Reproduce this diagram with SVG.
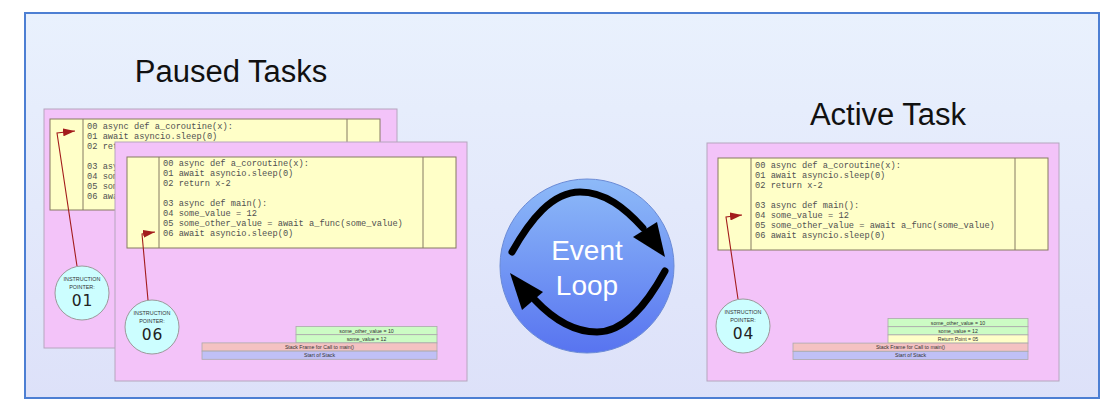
<svg xmlns="http://www.w3.org/2000/svg" width="1118" height="420" viewBox="0 0 1118 420">
<defs>
<linearGradient id="bg" x1="0" y1="0" x2="0" y2="1">
<stop offset="0" stop-color="#e9f1fd"/>
<stop offset="1" stop-color="#dde1f9"/>
</linearGradient>
<linearGradient id="loop" x1="0" y1="0" x2="0" y2="1">
<stop offset="0" stop-color="#8dbaf8"/>
<stop offset="1" stop-color="#5874f0"/>
</linearGradient>
<marker id="ptr" markerWidth="12" markerHeight="8" refX="12" refY="4" orient="auto" markerUnits="userSpaceOnUse">
<path d="M0,0 L12,4 L0,8 Z" fill="#a31c1c"/>
</marker>
</defs>
<style>
.pane{fill:#f3c3f9;stroke:#b5a6be;stroke-width:1}
.code{fill:#ffffc8;stroke:#857a62;stroke-width:1}
.div{stroke:#857a62;stroke-width:1}
.src{font-family:"Liberation Mono",monospace;font-size:8.7px;fill:#505050}
.ip{fill:#ccfeff;stroke:#9a9a9a;stroke-width:1}
.ipl{font-family:"Liberation Sans",Arial,sans-serif;font-size:5.4px;fill:#333;text-anchor:middle}
.ipn{font-family:"DejaVu Sans",sans-serif;font-size:15.5px;fill:#222;text-anchor:middle;letter-spacing:1px}
.stk{font-family:"Liberation Sans",Arial,sans-serif;font-size:5.2px;fill:#333;text-anchor:middle}
.g{fill:#ccfcc4;stroke:#aaa;stroke-width:0.8}
.r{fill:#f4c2c2;stroke:#aaa;stroke-width:0.8}
.b{fill:#c0c0f6;stroke:#aaa;stroke-width:0.8}
.y{fill:#ffffc8;stroke:#aaa;stroke-width:0.8}
.title{font-family:"Liberation Sans",Arial,sans-serif;font-size:31px;fill:#111;text-anchor:middle}
.conn{fill:none;stroke:#a31c1c;stroke-width:1.1}
.loopArc{fill:none;stroke:#000;stroke-width:7;stroke-linecap:round}
</style>
<rect x="0" y="0" width="1118" height="420" fill="#ffffff"/>
<rect id="frame" x="25" y="13" width="1074" height="385" fill="url(#bg)" stroke="#4d7fd3" stroke-width="2"/>

<text class="title" x="231" y="82">Paused Tasks</text>
<text class="title" x="888" y="125">Active Task</text>

<g id="task1">
<rect class="pane" x="44" y="109" width="353" height="239"/>
<rect class="code" x="50" y="119" width="330" height="91"/>
<line class="div" x1="83" y1="119" x2="83" y2="210"/>
<line class="div" x1="347" y1="119" x2="347" y2="210"/>
<text class="src" x="87" y="128.5">00 async def a_coroutine(x):</text>
<text class="src" x="87" y="138.5">01 await asyncio.sleep(0)</text>
<text class="src" x="87" y="148.5">02 return x-2</text>
<text class="src" x="87" y="168.5">03 async def main():</text>
<text class="src" x="87" y="178.5">04 some_value = 12</text>
<text class="src" x="87" y="188.5">05 some_other_value = await a_func(some_value)</text>
<text class="src" x="87" y="198.5">06 await asyncio.sleep(0)</text>
<circle class="ip" cx="82" cy="293" r="27"/>
<text class="ipl" x="82" y="281">INSTRUCTION</text>
<text class="ipl" x="82" y="289">POINTER:</text>
<text class="ipn" x="82.5" y="306">01</text>
</g>

<g id="task2">
<rect class="pane" x="115" y="142" width="352" height="239"/>
<rect class="code" x="127" y="157" width="329" height="91"/>
<line class="div" x1="159" y1="157" x2="159" y2="248"/>
<line class="div" x1="423" y1="157" x2="423" y2="248"/>
<text class="src" x="163" y="165.5">00 async def a_coroutine(x):</text>
<text class="src" x="163" y="175.5">01 await asyncio.sleep(0)</text>
<text class="src" x="163" y="185.5">02 return x-2</text>
<text class="src" x="163" y="205.5">03 async def main():</text>
<text class="src" x="163" y="215.5">04 some_value = 12</text>
<text class="src" x="163" y="225.5">05 some_other_value = await a_func(some_value)</text>
<text class="src" x="163" y="235.5">06 await asyncio.sleep(0)</text>
<circle class="ip" cx="152" cy="327" r="27"/>
<text class="ipl" x="152" y="315">INSTRUCTION</text>
<text class="ipl" x="152" y="323">POINTER:</text>
<text class="ipn" x="152.5" y="340">06</text>
<rect class="g" x="296" y="326.5" width="141" height="8.2"/>
<text class="stk" x="366.5" y="332.6">some_other_value = 10</text>
<rect class="g" x="296" y="334.7" width="141" height="8.2"/>
<text class="stk" x="366.5" y="340.8">some_value = 12</text>
<rect class="r" x="202" y="342.9" width="235" height="8.2"/>
<text class="stk" x="319.5" y="349">Stack Frame for Call to main()</text>
<rect class="b" x="202" y="351.1" width="235" height="8.2"/>
<text class="stk" x="319.5" y="357.2">Start of Stack</text>
</g>

<g id="task3">
<rect class="pane" x="707" y="143" width="352" height="238"/>
<rect class="code" x="718" y="158" width="330" height="92"/>
<line class="div" x1="751" y1="158" x2="751" y2="250"/>
<line class="div" x1="1015" y1="158" x2="1015" y2="250"/>
<text class="src" x="755" y="167.5">00 async def a_coroutine(x):</text>
<text class="src" x="755" y="177.5">01 await asyncio.sleep(0)</text>
<text class="src" x="755" y="187.5">02 return x-2</text>
<text class="src" x="755" y="207.5">03 async def main():</text>
<text class="src" x="755" y="217.5">04 some_value = 12</text>
<text class="src" x="755" y="227.5">05 some_other_value = await a_func(some_value)</text>
<text class="src" x="755" y="237.5">06 await asyncio.sleep(0)</text>
<circle class="ip" cx="743" cy="326" r="27"/>
<text class="ipl" x="743" y="314">INSTRUCTION</text>
<text class="ipl" x="743" y="322">POINTER:</text>
<text class="ipn" x="743.5" y="339">04</text>
<rect class="g" x="888" y="318.5" width="140" height="8.2"/>
<text class="stk" x="958" y="324.6">some_other_value = 10</text>
<rect class="g" x="888" y="326.7" width="140" height="8.2"/>
<text class="stk" x="958" y="332.8">some_value = 12</text>
<rect class="y" x="888" y="334.9" width="140" height="8.2"/>
<text class="stk" x="958" y="341">Return Point = 05</text>
<rect class="r" x="793" y="343.1" width="235" height="8.2"/>
<text class="stk" x="910.5" y="349.2">Stack Frame for Call to main()</text>
<rect class="b" x="793" y="351.3" width="235" height="8.2"/>
<text class="stk" x="910.5" y="357.4">Start of Stack</text>
</g>

<g id="eventloop">
<circle cx="587" cy="266" r="87" fill="url(#loop)" stroke="#6b8bd6" stroke-width="1"/>
<path class="loopArc" d="M512,252 C530,220 552,192 580,192 C605,192 625,208 643,228"/>
<polygon points="665,257 633,237 657,222" fill="#000"/>
<path class="loopArc" d="M665,271 C647,304 625,332 597,332 C572,332 552,318 535,300"/>
<polygon points="510,273 522,310 543,292" fill="#000"/>
<text x="587" y="260" font-family="'Liberation Sans',Arial,sans-serif" font-size="28" fill="#ffffff" text-anchor="middle">Event</text>
<text x="587" y="295" font-family="'Liberation Sans',Arial,sans-serif" font-size="28" fill="#ffffff" text-anchor="middle">Loop</text>
</g>

<g id="connectors">
<polyline class="conn" points="77,266 57,133 75,131" marker-end="url(#ptr)"/>
<polyline class="conn" points="148,300 142,234 155,232" marker-end="url(#ptr)"/>
<polyline class="conn" points="738,299 726,217 742,215" marker-end="url(#ptr)"/>
</g>
</svg>
